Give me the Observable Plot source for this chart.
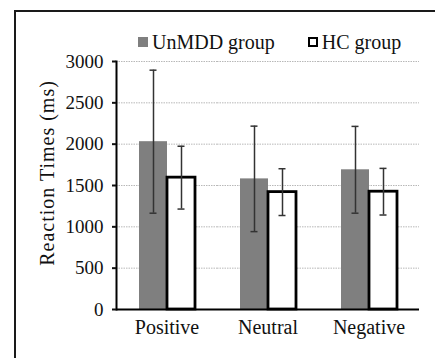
<!DOCTYPE html>
<html><head><meta charset="utf-8">
<script src="https://cdn.jsdelivr.net/npm/d3@7"></script>
<script src="https://cdn.jsdelivr.net/npm/@observablehq/plot@0.6"></script>
<style>
body{margin:0;background:#fff;}
#wrap{position:relative;width:435px;height:358px;overflow:hidden;font-family:"Liberation Serif","Times New Roman",serif;color:#111;}
#border{position:absolute;left:14px;top:10px;width:419px;height:360px;border-left:2px solid #1a1a1a;border-top:2px solid #1a1a1a;}
#chart{position:absolute;left:0;top:0;}
#chart svg, #chart svg text{font-family:"Liberation Serif","Times New Roman",serif !important;}
#legend{position:absolute;top:30px;left:138px;font-size:20px;display:flex;align-items:center;white-space:nowrap;line-height:24px;}
.sw{display:inline-block;width:10px;height:10px;box-sizing:border-box;margin-right:4px;}
.item{display:flex;align-items:center;margin-right:33px;}
#ylabel{position:absolute;left:47px;top:173px;transform:translate(-50%,-50%) rotate(-90deg);font-size:20px;letter-spacing:1px;white-space:nowrap;}
</style></head><body>
<div id="wrap"><div id="border"></div><div id="chart"></div><div id="legend"></div><div id="ylabel"></div></div>
<script>
const categories = ["Positive", "Neutral", "Negative"];
const groups = ["UnMDD group", "HC group"];
const unmddMean = [2030, 1580, 1690];
const unmddSD = [865, 638, 525];
const hcMean = [1595, 1420, 1425];
const hcSD = [380, 283, 282];
const yTicks = [0, 500, 1000, 1500, 2000, 2500, 3000];
const yLabel = "Reaction Times (ms)";
const groupFill = ["#7f7f7f", "#ffffff"];
const groupStroke = ["none", "#000000"];
const serif = "'Liberation Serif', 'Times New Roman', serif";

const data = categories.flatMap((c, i) => [
  {cat: c, group: groups[0], mean: unmddMean[i], sd: unmddSD[i]},
  {cat: c, group: groups[1], mean: hcMean[i], sd: hcSD[i]}
]);

const lo = d => d.mean - d.sd;
const hi = d => d.mean + d.sd;

const chart = Plot.plot({
  width: 435, height: 358,
  marginLeft: 115, marginRight: 16, marginTop: 61, marginBottom: 49,
  style: {fontFamily: serif, fontSize: "20px", color: "#111", background: "transparent", overflow: "visible"},
  fx: {domain: categories, padding: 0, label: null},
  x: {domain: groups, paddingInner: 0, paddingOuter: 0.75, axis: null},
  y: {domain: [0, 3000], label: null},
  marks: [
    Plot.gridY(yTicks.slice(1), {stroke: "#b8b8b8", strokeOpacity: 1, strokeDasharray: "1.5,1"}),
    Plot.barY(data.filter(d => d.group === groups[0]), {fx: "cat", x: "group", y: "mean", fill: groupFill[0]}),
    Plot.barY(data.filter(d => d.group === groups[1]), {fx: "cat", x: "group", y: "mean", fill: groupFill[1], stroke: groupStroke[1], strokeWidth: 2.8}),
    Plot.ruleX(data, {fx: "cat", x: "group", y1: lo, y2: hi, stroke: "#333", strokeWidth: 1.5}),
    Plot.tickY(data, {fx: "cat", x: "group", y: hi, stroke: "#333", strokeWidth: 1.5, insetLeft: 10.5, insetRight: 10.5}),
    Plot.tickY(data, {fx: "cat", x: "group", y: lo, stroke: "#333", strokeWidth: 1.5, insetLeft: 10.5, insetRight: 10.5}),
    Plot.ruleY([0], {stroke: "#000", strokeWidth: 2}),
    Plot.frame({anchor: "left", facetAnchor: "left", stroke: "#000", strokeWidth: 2}),
    Plot.axisY(yTicks, {tickSize: 4, strokeWidth: 2, tickPadding: 9, fontSize: 19, fontFamily: serif, tickFormat: d3.format("d"), label: null}),
    Plot.axisFx({anchor: "bottom", tickSize: 0, tickPadding: 10, fontSize: 20, fontFamily: serif, label: null})
  ]
});
document.getElementById("chart").appendChild(chart);

const legend = document.getElementById("legend");
groups.forEach((g, i) => {
  const item = document.createElement("span");
  item.className = "item";
  const sw = document.createElement("span");
  sw.className = "sw";
  sw.style.background = groupFill[i];
  if (groupStroke[i] !== "none") sw.style.border = "2px solid " + groupStroke[i];
  item.appendChild(sw);
  item.appendChild(document.createTextNode(g));
  legend.appendChild(item);
});
document.getElementById("ylabel").textContent = yLabel;
</script>
</body></html>
